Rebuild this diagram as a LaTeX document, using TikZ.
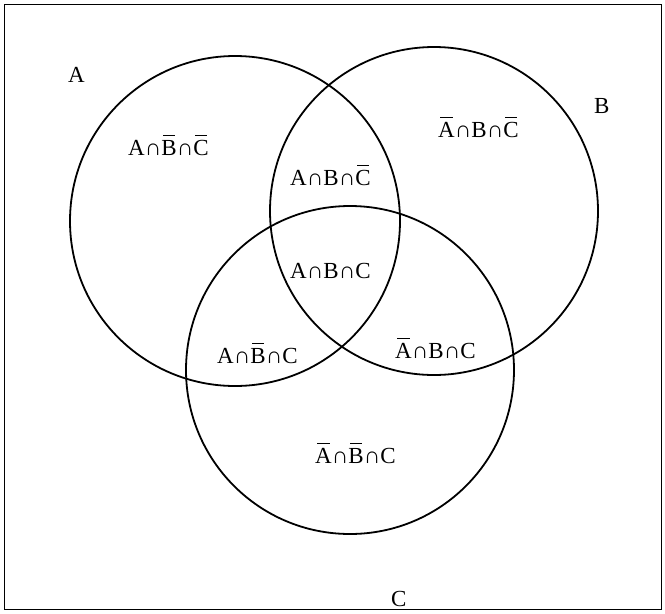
\documentclass[tikz,border=0pt]{standalone}
\usepackage{fontspec}
\setmainfont{Liberation Serif}
\newcommand\ovl[1]{\leavevmode\setbox0\hbox{#1}\rlap{\hbox to\wd0{\hss\raisebox{\dimexpr\ht0+3.5pt\relax}{\rule{0.75\wd0}{1.6pt}}\hss}}\box0}
\begin{document}
\begin{tikzpicture}[x=1pt,y=-1pt,
  ring/.style={draw=black,line width=1.8pt},
  lab/.style={anchor=base west,inner sep=0pt,font=\fontsize{23}{27}\selectfont}]
\useasboundingbox (0,0) rectangle (665,614);
\node[draw,line width=1.8pt,minimum width=657pt,minimum height=605pt,anchor=north west,inner sep=0pt] (frame) at (3.5,3.5) {};
\node[ring,circle,minimum size=330pt,inner sep=0pt] (cA) at (235,221) {};
\node[ring,circle,minimum size=328pt,inner sep=0pt] (cB) at (434,211) {};
\node[ring,circle,minimum size=328pt,inner sep=0pt] (cC) at (350,370) {};
\node[lab] (lA) at (68,82) {A};
\node[lab] (lB) at (594,113) {B};
\node[lab] (lC) at (391,606) {C};
\node[lab] (r1) at (128,155) {A∩\ovl{B}∩\ovl{C}};
\node[lab] (r2) at (290,185) {A∩B∩\ovl{C}};
\node[lab] (r3) at (438,137) {\ovl{A}∩B∩\ovl{C}};
\node[lab] (r4) at (290,278) {A∩B∩C};
\node[lab] (r5) at (217,363) {A∩\ovl{B}∩C};
\node[lab] (r6) at (395,358) {\ovl{A}∩B∩C};
\node[lab] (r7) at (315,463) {\ovl{A}∩\ovl{B}∩C};
\end{tikzpicture}
\end{document}
